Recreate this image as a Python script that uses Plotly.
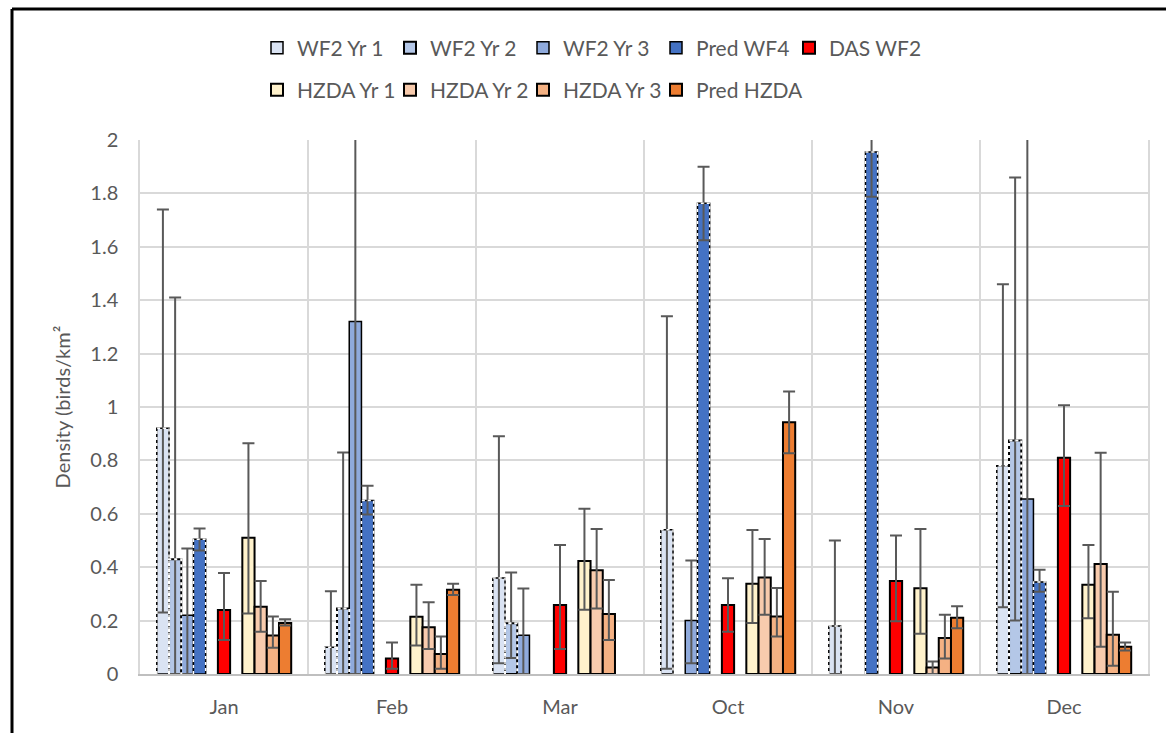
import plotly.graph_objects as go

months = ["Jan", "Feb", "Mar", "Oct", "Nov", "Dec"]

series_names = ["WF2 Yr 1", "WF2 Yr 2", "WF2 Yr 3", "Pred WF4", "DAS WF2",
                "HZDA Yr 1", "HZDA Yr 2", "HZDA Yr 3", "Pred HZDA"]

wf2_yr1 = [0.92, 0.10, 0.36, 0.54, 0.18, 0.78]
wf2_yr1_hi = [1.74, 0.31, 0.89, 1.34, 0.50, 1.46]
wf2_yr1_lo = [0.23, 0.0, 0.04, 0.02, 0.0, 0.25]

wf2_yr2 = [0.43, 0.245, 0.19, None, None, 0.875]
wf2_yr2_hi = [1.41, 0.83, 0.38, None, None, 1.86]
wf2_yr2_lo = [0.0, 0.0, 0.06, None, None, 0.20]

wf2_yr3 = [0.22, 1.32, 0.145, 0.20, None, 0.655]
wf2_yr3_hi = [0.47, 2.6, 0.32, 0.425, None, 2.5]
wf2_yr3_lo = [0.0, 0.0, 0.0, 0.04, None, 0.0]

pred_wf4 = [0.505, 0.65, None, 1.763, 1.955, 0.345]
pred_wf4_hi = [0.545, 0.705, None, 1.90, 2.12, 0.39]
pred_wf4_lo = [0.463, 0.597, None, 1.625, 1.787, 0.308]

das_wf2 = [0.24, 0.058, 0.258, 0.258, 0.348, 0.81]
das_wf2_hi = [0.378, 0.118, 0.483, 0.359, 0.519, 1.007]
das_wf2_lo = [0.127, 0.02, 0.094, 0.158, 0.198, 0.629]

hzda_yr1 = [0.51, 0.214, 0.423, 0.338, 0.321, 0.334]
hzda_yr1_hi = [0.864, 0.334, 0.619, 0.539, 0.543, 0.483]
hzda_yr1_lo = [0.227, 0.107, 0.241, 0.191, 0.151, 0.209]

hzda_yr2 = [0.252, 0.175, 0.389, 0.361, 0.024, 0.412]
hzda_yr2_hi = [0.348, 0.269, 0.543, 0.506, 0.047, 0.829]
hzda_yr2_lo = [0.158, 0.094, 0.245, 0.222, 0.0, 0.102]

hzda_yr3 = [0.144, 0.075, 0.225, 0.215, 0.135, 0.147]
hzda_yr3_hi = [0.215, 0.14, 0.352, 0.322, 0.222, 0.308]
hzda_yr3_lo = [0.098, 0.02, 0.127, 0.14, 0.058, 0.031]

pred_hzda = [0.191, 0.316, None, 0.943, 0.211, 0.102]
pred_hzda_hi = [0.205, 0.338, None, 1.058, 0.254, 0.118]
pred_hzda_lo = [0.182, 0.296, None, 0.827, 0.171, 0.088]

values = [wf2_yr1, wf2_yr2, wf2_yr3, pred_wf4, das_wf2, hzda_yr1, hzda_yr2, hzda_yr3, pred_hzda]
highs = [wf2_yr1_hi, wf2_yr2_hi, wf2_yr3_hi, pred_wf4_hi, das_wf2_hi,
         hzda_yr1_hi, hzda_yr2_hi, hzda_yr3_hi, pred_hzda_hi]
lows = [wf2_yr1_lo, wf2_yr2_lo, wf2_yr3_lo, pred_wf4_lo, das_wf2_lo,
        hzda_yr1_lo, hzda_yr2_lo, hzda_yr3_lo, pred_hzda_lo]

# styling
colors = ["#dae3f3", "#b4c7e7", "#8faadc", "#4472c4", "#ff0000",
          "#fff2cc", "#f8cbad", "#f4b183", "#ed7d31"]
slots = [0, 1, 2, 3, 5, 7, 8, 9, 10]
dashed = [True, True, False, True, False, False, False, False, False]
line_w = [1.5, 2, 1.5, 1.5, 2, 2, 2, 2, 2]
legend_ids = ["legend"] * 5 + ["legend2"] * 4

n_slots = 11
group_w = 0.8
slot_w = group_w / n_slots
start = -group_w / 2

FONT = "Lato, Carlito, Calibri, sans-serif"
TXT = "#595959"

fig = go.Figure()
x_idx = list(range(len(months)))

for k, name in enumerate(series_names):
    v = values[k]
    plus = [None if (a is None) else (h - a) for a, h in zip(v, highs[k])]
    minus = [None if (a is None) else (a - l) for a, l in zip(v, lows[k])]
    fig.add_trace(go.Bar(
        name=name, x=x_idx, y=v,
        offset=start + slots[k] * slot_w, width=slot_w,
        marker=dict(color=colors[k], line=dict(color="#000000", width=line_w[k])),
        error_y=dict(type="data", symmetric=False, array=plus, arrayminus=minus,
                     color="#595959", thickness=2, width=6),
        legend=legend_ids[k], hoverinfo="y",
    ))

# dashed outlines (white dashes over the black outline)
for k, name in enumerate(series_names):
    if not dashed[k]:
        continue
    xs, ys = [], []
    for i, a in enumerate(values[k]):
        if a is None:
            continue
        x0 = i + start + slots[k] * slot_w
        x1 = x0 + slot_w
        xs += [x0, x0, x1, x1, None]
        ys += [0, a, a, 0, None]
    fig.add_trace(go.Scatter(
        x=xs, y=ys, mode="lines", showlegend=False, hoverinfo="skip",
        line=dict(color="#ffffff", width=line_w[k], dash="3px,3px"),
    ))

# invisible trailing legend entries so the last real entry is not clipped
for lg in ["legend", "legend2"]:
    fig.add_trace(go.Scatter(x=[None], y=[None], name=" ", mode="markers",
                             marker=dict(color="rgba(0,0,0,0)", size=1,
                                         line=dict(width=0, color="rgba(0,0,0,0)")),
                             legend=lg, hoverinfo="skip"))

W, H = 1166, 733
# plot area in page pixels: x 140..1148, y 140..674
L, T = 140, 140
R = W - 1148
B = H - 674
pw, ph = W - L - R, H - T - B

def px_x(x):
    return (x - L) / pw

def px_y(y):
    return (H - B - y) / ph

leg_common = dict(orientation="h", xanchor="left", yanchor="middle",
                  entrywidth=88, traceorder="normal", font=dict(size=21, color=TXT),
                  bgcolor="rgba(0,0,0,0)")

fig.update_layout(
    width=W, height=H, autosize=False,
    margin=dict(l=L, r=R, t=T, b=B, autoexpand=False),
    paper_bgcolor="white", plot_bgcolor="white",
    font=dict(family=FONT, size=20, color=TXT),
    barmode="overlay",
    showlegend=True,
    legend=dict(x=px_x(257), y=px_y(48), **leg_common),
    legend2=dict(x=px_x(257), y=px_y(90), **leg_common),
    xaxis=dict(range=[-0.5, len(months) - 0.5], tickmode="array", tickvals=x_idx, ticktext=months,
               showgrid=False, zeroline=False, showline=True, linecolor="#bfbfbf", linewidth=1.5,
               ticks="", ticklabelstandoff=14, tickfont=dict(size=20, color=TXT), automargin=False,
               minor=dict(dtick=1, tick0=0.5, showgrid=True, gridcolor="#d9d9d9", gridwidth=1.5, ticks="")),
    yaxis=dict(range=[0, 2], dtick=0.2, tick0=0, showgrid=True, gridcolor="#d9d9d9", gridwidth=1.5,
               zeroline=False, showline=True, mirror=True, linecolor="#d9d9d9", linewidth=1.5,
               ticks="", ticklabelstandoff=16, tickfont=dict(size=20, color=TXT), automargin=False,
               title=dict(text="Density (birds/km²", font=dict(size=20, color=TXT), standoff=14)),
    shapes=[
        dict(type="line", xref="paper", yref="paper", x0=px_x(12), x1=px_x(1180),
             y0=px_y(9), y1=px_y(9), line=dict(color="black", width=3)),
        dict(type="line", xref="paper", yref="paper", x0=px_x(12), x1=px_x(12),
             y0=px_y(9), y1=px_y(745), line=dict(color="black", width=3)),
    ],
)

page_fix = ("document.body.style.margin='0';"
            "document.body.style.overflow='hidden';"
            "document.documentElement.style.overflow='hidden';")
fig.write_html("out.html", post_script=page_fix, config={"displayModeBar": False})
